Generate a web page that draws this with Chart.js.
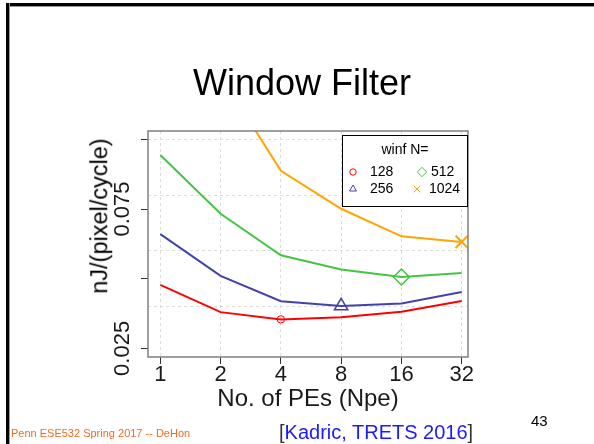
<!DOCTYPE html>
<html>
<head>
<meta charset="utf-8">
<script src="https://cdn.jsdelivr.net/npm/chart.js@4.4.0/dist/chart.umd.min.js"></script>
<style>
  body { margin: 0; background: #fff; }
  #slide { position: relative; width: 594px; height: 444px; overflow: hidden; background: #fff;
           font-family: "Liberation Sans", Arial, sans-serif; }
  #slide canvas { position: absolute; left: 0; top: 0; }
  .txt { position: absolute; white-space: nowrap; line-height: 1; }
  .frame-top { position: absolute; left: 6px; top: 3px; width: 588px; height: 3px; background: #000;
               box-shadow: 0 1px 0 #999; }
  .frame-left { position: absolute; left: 6px; top: 3px; width: 3px; height: 441px; background: #000;
                box-shadow: 1px 0 0 #999; }
</style>
</head>
<body>
<div id="slide">
  <div class="frame-top"></div>
  <div class="frame-left"></div>
  <canvas id="winChart" width="594" height="444"></canvas>
  <div class="txt" style="left:5px; width:594px; top:65px; font-size:36px; text-align:center;">Window Filter</div>
  <div class="txt" style="left:100px; top:216px; font-size:23.5px; transform: translate(-50%,-50%) rotate(-90deg);">nJ/(pixel/cycle)</div>
  <div class="txt" style="left:11px; top:428px; font-size:11px; color:#f26b1d;">Penn ESE532 Spring 2017 -- DeHon</div>
  <div class="txt" style="left:279px; top:422px; font-size:20px; color:#333;">[<span style="color:#1a1aff">Kadric, TRETS 2016</span>]</div>
  <div class="txt" style="left:531px; top:413px; font-size:15px;">43</div>
</div>
<script>
// number of PEs (x axis, log2 spaced)
var npe = [1, 2, 4, 8, 16, 32];
// energy per pixel, one series per window size N
var e128  = [0.0478, 0.0380, 0.0354, 0.0362, 0.0381, 0.0420];
var e256  = [0.0660, 0.0510, 0.0419, 0.0402, 0.0411, 0.0452];
var e512  = [0.0944, 0.0733, 0.0584, 0.0533, 0.0506, 0.0520];
var e1024 = [0.165, 0.123, 0.0887, 0.0751, 0.0652, 0.0632];
var seriesNames = ['128', '256', '512', '1024'];
// y ticks (labels only on 0.025 and 0.075, like the original) and grid values
var yTicks = [0.025, 0.05, 0.075, 0.1];
var yLabels = ['0.025', '', '0.075', ''];
var yGrid = [0.04, 0.06, 0.08, 0.1];

Chart.defaults.font.family = '"Liberation Sans", Arial, sans-serif';
Chart.defaults.color = '#000';

function pts(arr) {
  return npe.map(function(x, i) { return { x: x, y: arr[i] }; });
}

// one marker per line, at a different x for each series
var styles = [
  { color: '#ff0000', shape: 'circle',   at: 2, r: 3.7, bw: 1 },
  { color: '#4242ad', shape: 'triangle', at: 3, r: 7.7, bw: 1.5 },
  { color: '#44c444', shape: 'rectRot',  at: 4, r: 8,   bw: 1.5 },
  { color: '#ffa500', shape: 'crossRot', at: 5, r: 8.7, bw: 2 }
];
var allSeries = [e128, e256, e512, e1024];

var datasets = allSeries.map(function(arr, k) {
  var s = styles[k];
  return {
    label: seriesNames[k],
    data: pts(arr),
    borderColor: s.color,
    backgroundColor: 'transparent',
    borderWidth: 2,
    tension: 0,
    pointStyle: s.shape,
    pointRadius: npe.map(function(v, i) { return i === s.at ? s.r : 0; }),
    pointBorderWidth: s.bw,
    pointBorderColor: s.color,
    pointBackgroundColor: 'transparent',
    pointHoverRadius: 0
  };
});

// grey plot box + legend drawn on the canvas
var boxAndLegend = {
  id: 'boxAndLegend',
  afterDatasetsDraw: function(chart) {
    var ctx = chart.ctx, a = chart.chartArea;
    ctx.save();
    ctx.strokeStyle = '#808080';
    ctx.lineWidth = 1.5;
    ctx.strokeRect(a.left, a.top, a.right - a.left, a.bottom - a.top);

    // legend
    var lx = 342, ly = 135, lw = 126, lh = 72;
    ctx.fillStyle = '#fff';
    ctx.fillRect(lx, ly, lw, lh);
    ctx.strokeStyle = '#000';
    ctx.lineWidth = 1;
    ctx.strokeRect(lx + 0.5, ly + 0.5, lw - 1, lh - 1);
    ctx.fillStyle = '#000';
    ctx.font = '14px "Liberation Sans", Arial, sans-serif';
    ctx.textAlign = 'center';
    ctx.textBaseline = 'middle';
    ctx.fillText('winf N=', 405, 150);
    var spots = [[353, 172], [353, 189], [422, 172], [417, 189]];
    var txtX = [370, 370, 431, 429];
    var legR = [3.2, 4, 4.7, 4.7];
    ctx.textAlign = 'left';
    for (var k = 0; k < 4; k++) {
      ctx.strokeStyle = styles[k].color;
      ctx.fillStyle = 'rgba(0,0,0,0)';
      ctx.lineWidth = 1;
      Chart.helpers.drawPoint(ctx, { pointStyle: styles[k].shape, radius: legR[k], borderWidth: 1, rotation: 0 }, spots[k][0], spots[k][1]);
      ctx.fillStyle = '#000';
      ctx.fillText(seriesNames[k], txtX[k], spots[k][1]);
    }
    ctx.restore();
  }
};

var ctx = document.getElementById('winChart').getContext('2d');
var winChart = new Chart(ctx, {
  type: 'line',
  data: { datasets: datasets },
  options: {
    responsive: false,
    animation: false,
    events: [],
    layout: { padding: { left: 0, top: 131, right: 126, bottom: 0 } },
    plugins: { legend: { display: false }, tooltip: { enabled: false } },
    scales: {
      x: {
        type: 'logarithmic',
        min: 0.868,
        max: 34.4,
        afterBuildTicks: function(scale) {
          scale.ticks = npe.map(function(v) { return { value: v }; });
        },
        afterFit: function(scale) { scale.height = 87; },
        ticks: {
          autoSkip: false, maxRotation: 0, padding: -2,
          font: { size: 22 }, color: '#1a1a1a',
          callback: function(v) { return String(v); }
        },
        grid: {
          color: '#dcdcdc', lineWidth: 1, borderDash: [3, 3],
          drawTicks: true, tickLength: 7, tickColor: '#333', tickWidth: 1, tickBorderDash: []
        },
        border: { display: false, dash: [3, 3] },
        title: {
          display: true, text: 'No. of PEs (Npe)',
          font: { size: 24 }, color: '#1a1a1a',
          padding: { top: 0, bottom: 30 }
        }
      },
      y: {
        position: 'left',
        min: 0.0219,
        max: 0.103,
        afterBuildTicks: function(scale) {
          scale.ticks = yTicks.map(function(v) { return { value: v }; });
        },
        afterFit: function(scale) { scale.width = 148; },
        ticks: {
          autoSkip: false, minRotation: 90, maxRotation: 90,
          crossAlign: 'center', padding: -9.5,
          font: { size: 22 }, color: '#1a1a1a',
          callback: function(v, i) { return yLabels[i]; }
        },
        grid: {
          drawOnChartArea: false, drawTicks: true, tickLength: 7,
          tickColor: '#333', tickWidth: 1
        },
        border: { display: false }
      },
      yg: {
        position: 'left',
        min: 0.0219,
        max: 0.103,
        afterBuildTicks: function(scale) {
          scale.ticks = yGrid.map(function(v) { return { value: v }; });
        },
        afterFit: function(scale) { scale.width = 0; },
        ticks: { display: false },
        grid: { color: '#dcdcdc', lineWidth: 1, borderDash: [3, 3], drawTicks: false },
        border: { display: false, dash: [3, 3] }
      }
    }
  },
  plugins: [boxAndLegend]
});
</script>
</body>
</html>
